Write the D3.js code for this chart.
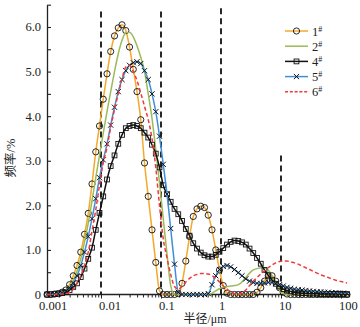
<!DOCTYPE html>
<html><head><meta charset="utf-8">
<script src="https://cdn.jsdelivr.net/npm/d3@7"></script>
<style>
html,body{margin:0;padding:0;background:#fff;}
svg{display:block;}
text{font-family:"Liberation Serif","Noto Sans CJK SC",serif;fill:#222;}
</style></head>
<body>
<svg id="c" width="360" height="327"></svg>
<script>
// radius (µm) of each measurement point
const radii = [0.00126,0.00145,0.00168,0.00194,0.00224,0.00259,0.00299,0.00345,0.00398,0.0046,
0.00531,0.00613,0.00708,0.00818,0.00944,0.0109,0.0126,0.0145,0.0168,0.0194,
0.0224,0.0259,0.0299,0.0345,0.0398,0.046,0.0531,0.0613,0.0708,0.0818,
0.0944,0.109,0.126,0.145,0.168,0.194,0.224,0.259,0.299,0.345,
0.398,0.46,0.531,0.613,0.708,0.818,0.944,1.09,1.26,1.45,
1.68,1.94,2.24,2.59,2.99,3.45,3.98,4.6,5.31,6.13,
7.08,8.18,9.44,10.9,12.6,14.5,16.8,19.4,22.4,25.9,
29.9,34.5,39.8,46,53.1,61.3,70.8,81.8,94.4,109,126];

const s1 = [0,0,0.01,0.02,0.05,0.10,0.22,0.42,0.65,0.95,
1.35,1.82,2.48,3.20,3.78,4.38,4.95,5.45,5.80,5.98,
6.05,5.92,5.55,5.05,4.55,3.92,2.95,2.20,1.45,0.72,
0.08,0,0,0,0,0.02,0.25,0.75,1.30,1.75,
1.92,1.98,1.95,1.78,1.45,1.00,0.55,0.20,0.03,0,
0,0,0,0,0,0,0.05,0.15,0.30,0.42,
0.42,0.30,0.15,0.05,0.01,0,0,0,0,0,
0,0,0,0,0,0,0,0,0,0,0];

const s2 = [0,0,0.01,0.02,0.05,0.10,0.18,0.32,0.52,0.80,
1.18,1.60,2.10,2.62,3.12,3.62,4.10,4.55,5.00,5.40,
5.70,5.87,5.88,5.78,5.58,5.32,5.00,4.50,3.95,3.25,
2.50,1.70,0.90,0.20,0,0,0,0,0,0,
0,0,0,0,0.03,0.08,0.13,0.16,0.18,0.19,
0.20,0.22,0.28,0.38,0.48,0.55,0.58,0.60,0.60,0.55,
0.42,0.25,0.10,0.02,0,0,0,0,0,0,
0,0,0,0,0,0,0,0,0,0,0];

const s4 = [0,0,0.01,0.02,0.03,0.05,0.10,0.17,0.25,0.39,
0.58,0.80,1.05,1.45,1.83,2.20,2.58,2.88,3.12,3.38,
3.58,3.73,3.78,3.80,3.78,3.73,3.63,3.52,3.36,3.16,
2.85,2.45,2.25,2.08,1.92,1.80,1.65,1.47,1.32,1.15,
1.03,0.94,0.88,0.85,0.85,0.89,0.96,1.04,1.12,1.18,
1.21,1.20,1.17,1.12,1.03,0.93,0.82,0.69,0.55,0.43,
0.32,0.24,0.18,0.12,0.09,0.07,0.05,0.04,0.03,0.03,
0.02,0.02,0.02,0.01,0.01,0.01,0.01,0.01,0.01,0.01,0];

const s5 = [0,0,0.01,0.02,0.04,0.08,0.15,0.26,0.42,0.65,
0.95,1.30,1.70,2.15,2.62,3.02,3.38,3.80,4.20,4.55,
4.82,5.02,5.14,5.20,5.22,5.18,5.02,4.82,4.50,4.10,
3.55,2.92,2.25,1.48,0.68,0.05,0,0,0,0,
0,0,0,0.02,0.22,0.42,0.56,0.63,0.65,0.62,
0.56,0.49,0.42,0.35,0.30,0.27,0.25,0.25,0.26,0.27,
0.27,0.25,0.22,0.19,0.16,0.14,0.12,0.11,0.10,0.09,
0.08,0.07,0.06,0.06,0.05,0.05,0.04,0.04,0.03,0.03,0.02];

const s6 = [0,0,0,0,0.01,0.02,0.05,0.12,0.25,0.42,
0.65,0.95,1.42,1.90,2.45,2.95,3.30,3.75,4.15,4.50,
4.83,5.10,5.14,5.00,4.80,4.52,4.22,3.92,3.50,2.85,
2.00,1.25,0.82,0.45,0.18,0.12,0.18,0.28,0.36,0.42,
0.45,0.47,0.47,0.46,0.42,0.36,0.28,0.19,0.12,0.06,
0.02,0.01,0.04,0.10,0.20,0.30,0.38,0.46,0.53,0.60,
0.66,0.71,0.74,0.75,0.75,0.73,0.71,0.68,0.64,0.60,
0.56,0.52,0.48,0.44,0.41,0.38,0.35,0.32,0.30,0.28,0.26];

const seriesNames = ["1#","2#","4#","5#","6#"];
const seriesColors = ["#f3a92b","#9bbb59","#111111","#3f8fd8","#f03a3a"];
const seriesMarkers = ["circle","none","square","cross","none"];
const seriesDashes = [null,null,null,null,"4,2.5"];

const xTickValues = [0.001,0.01,0.1,1,10,100];
const xTickLabels = ["0.001","0.01","0.1","1","10","100"];
const yTickValues = [0,1,2,3,4,5,6];
const yTickLabels = ["0","1.0","2.0","3.0","4.0","5.0","6.0"];

const dividerRadii = [0.01,0.1,1,10];
const dividerTops = [6.35,6.35,6.42,3.12];

const xTitle = "半径/μm";
const yTitle = "频率/%";

const svg = d3.select("#c");
const x = d3.scaleLog().domain([0.001,100]).range([41,341]);
const y = d3.scaleLinear().domain([0,6.5]).range([294.5,4.7]);
const axLeft = 47, axRight = 349, axBottom = y(0);

// y axis
const yMinor = d3.range(0,6.51,0.5);
const yAxis = d3.axisLeft(y).tickValues(yMinor).tickSizeInner(-4).tickSizeOuter(0).tickPadding(6)
  .tickFormat(d => { const k = yTickValues.indexOf(d); return k>=0 ? yTickLabels[k] : ""; });
const gy = svg.append("g").attr("transform",`translate(${axLeft},0)`).call(yAxis);
gy.select(".domain").attr("stroke","#222").attr("stroke-width",1.3);
gy.selectAll(".tick line").attr("stroke","#222").attr("stroke-width",1.1);
gy.selectAll(".tick text").style("font-size","12.5px").attr("fill","#222").style("font-family","Liberation Serif");

// x axis ticks (decade + minor)
const xMinor = [];
[0.001,0.01,0.1,1,10].forEach(d => { for (let m=1;m<=9;m++){ const v=m*d; if (x(v)>=axLeft && x(v)<=axRight) xMinor.push(v);} });
xMinor.push(100);
const xAxis = d3.axisBottom(x).tickValues(xMinor).tickSizeInner(3).tickSizeOuter(0).tickFormat("");
const gx = svg.append("g").attr("transform",`translate(0,${axBottom})`).call(xAxis);
gx.select(".domain").remove();
gx.selectAll(".tick line").attr("stroke","#222").attr("stroke-width",1)
  .attr("y2", d => xTickValues.includes(d) ? 4 : 3);
svg.append("line").attr("x1",axLeft).attr("x2",axRight).attr("y1",axBottom).attr("y2",axBottom)
  .attr("stroke","#222").attr("stroke-width",1.3);
svg.append("g").selectAll("text").data(xTickValues).join("text")
  .attr("x", d => x(d) - 2).attr("y", axBottom + 15)
  .attr("text-anchor","start").style("font-size","12.5px")
  .text((d,i) => xTickLabels[i]);

// titles
svg.append("text").attr("x",205).attr("y",323).attr("text-anchor","middle")
  .style("font-size","12px").text(xTitle);
svg.append("text").attr("transform","translate(15,158) rotate(-90)").attr("text-anchor","middle")
  .style("font-size","12.5px").text(yTitle);

// divider dashed lines
svg.append("g").selectAll("line").data(dividerRadii).join("line")
  .attr("x1", d => x(d)).attr("x2", d => x(d))
  .attr("y1", (d,i) => y(dividerTops[i])).attr("y2", axBottom)
  .attr("stroke","#111").attr("stroke-width",1.8).attr("stroke-dasharray","6,4");

// series
const allSeries = [s1,s2,s4,s5,s6];
const line = d3.line().x(d => x(d[0])).y(d => y(d[1])).curve(d3.curveMonotoneX);

function drawMarker(g, type, cx, cy){
  if (type==="circle") g.append("circle").attr("cx",cx).attr("cy",cy).attr("r",3.1)
      .attr("fill","none").attr("stroke","#111").attr("stroke-width",0.9);
  else if (type==="square") g.append("rect").attr("x",cx-2.4).attr("y",cy-2.4).attr("width",4.8).attr("height",4.8)
      .attr("fill","none").attr("stroke","#111").attr("stroke-width",0.9);
  else if (type==="cross") g.append("path").attr("d",`M${cx-2.6},${cy-2.6}L${cx+2.6},${cy+2.6}M${cx-2.6},${cy+2.6}L${cx+2.6},${cy-2.6}`)
      .attr("stroke","#111").attr("stroke-width",1);
}

allSeries.forEach((vals, k) => {
  const pts = radii.map((r,i) => [r, vals[i]]);
  const g = svg.append("g");
  const p = g.append("path").attr("d", line(pts)).attr("fill","none")
    .attr("stroke", seriesColors[k]).attr("stroke-width",1.5);
  if (seriesDashes[k]) p.attr("stroke-dasharray", seriesDashes[k]);
  if (seriesMarkers[k] !== "none") {
    pts.forEach(d => drawMarker(g, seriesMarkers[k], x(d[0]), y(d[1])));
  }
});

// legend
const lg = svg.append("g");
seriesNames.forEach((name,k) => {
  const ly = 31 + k*15.2;
  const l = lg.append("line").attr("x1",285).attr("x2",308).attr("y1",ly).attr("y2",ly)
    .attr("stroke",seriesColors[k]).attr("stroke-width",1.5);
  if (seriesDashes[k]) l.attr("stroke-dasharray","3,1.8");
  if (seriesMarkers[k] !== "none") drawMarker(lg, seriesMarkers[k], 296.5, ly);
  const t = lg.append("text").attr("x",312).attr("y",ly+4.5).style("font-size","12.5px");
  t.append("tspan").text(name.slice(0,1));
  t.append("tspan").attr("dy",-4).style("font-size","8px").text(name.slice(1));
});
</script>
</body></html>
